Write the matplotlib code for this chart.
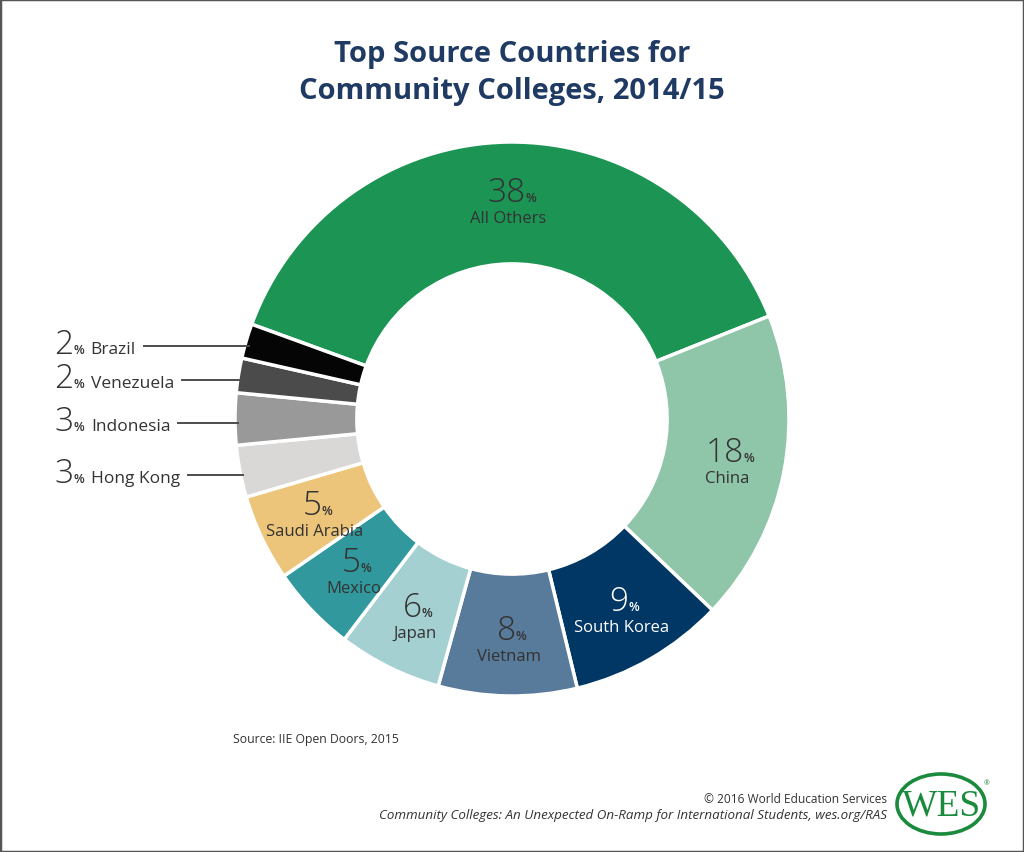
import numpy as np
import matplotlib.pyplot as plt
from matplotlib import font_manager
from matplotlib.transforms import IdentityTransform
from matplotlib.patches import Ellipse, Rectangle

# data
countries = ['All Others', 'China', 'South Korea', 'Vietnam', 'Japan', 'Mexico',
             'Saudi Arabia', 'Hong Kong', 'Indonesia', 'Venezuela', 'Brazil']
shares = [38, 18, 9, 8, 6, 5, 5, 3, 3, 2, 2]
colors = ['#1b9454', '#8fc5a8', '#003764', '#597b9b', '#a4d0d2', '#31999d',
          '#ecc47a', '#d9d8d7', '#999999', '#4b4b4b', '#050505']
label_colors = ['#333333', '#333333', 'white', '#333333', '#333333', '#333333',
                '#333333', '#333333', '#333333', '#333333', '#333333']
outside = ['Hong Kong', 'Indonesia', 'Venezuela', 'Brazil']

LBL_FONT = 'Open Sans'

# thin font for the big numbers: a real "light" face if one is installed
NUM_FONT, NUM_WEIGHT = 'Lato', 'normal'
have = {(f.name, f.weight) for f in font_manager.fontManager.ttflist}
for fam in ['Open Sans', 'Roboto', 'Inter', 'Lato', 'Noto Sans']:
    if (fam, 300) in have or (fam, 'light') in have:
        NUM_FONT, NUM_WEIGHT = fam, 300
        break

W, H = 1024, 853
fig = plt.figure(figsize=(W / 100, H / 100), dpi=100)
fig.patch.set_facecolor('white')
IDT = IdentityTransform()


def put(x, y, s, **kw):
    # x, y in image pixels (y measured from the top)
    return fig.text(x, H - y, s, transform=IDT, **kw)


# donut
cx, cy, R = 512, 420, 277
span = R * 2.4
ax = fig.add_axes([(cx - span / 2) / W, (H - cy - span / 2) / H, span / W, span / H])
wedges, _ = ax.pie(shares, colors=colors, startangle=160, counterclock=False, radius=1,
                   wedgeprops=dict(width=0.44, edgecolor='white', linewidth=2.5))
ax.set_xlim(-1.2, 1.2)
ax.set_ylim(-1.2, 1.2)
ax.set_aspect('equal')
ax.axis('off')

fig.canvas.draw()
renderer = fig.canvas.get_renderer()


def width(t):
    return t.get_window_extent(renderer).width


def to_px(r, ang):
    a = np.deg2rad(ang)
    x, y = ax.transData.transform((r * np.cos(a), r * np.sin(a)))
    return x, H - y


for w, name, val, lc in zip(wedges, countries, shares, label_colors):
    mid = (w.theta1 + w.theta2) / 2
    if name in outside:
        ex, ey = to_px(0.99, mid)
        ey += 4
        x0 = 54
        t_num = put(x0, ey + 7, str(val), fontsize=24, family=NUM_FONT, weight=NUM_WEIGHT,
                    color=lc, va='baseline', ha='left')
        t_pct = put(0, ey + 7, '%', fontsize=9, family=LBL_FONT, weight='semibold',
                    color=lc, va='baseline', ha='left')
        t_nm = put(0, ey + 7, name, fontsize=12.5, family=LBL_FONT, weight='medium',
                   color=lc, va='baseline', ha='left')
        w1 = width(t_num)
        w2 = width(t_pct)
        t_pct.set_x(x0 + w1)
        t_nm.set_x(x0 + w1 + w2 + 7)
        x_end = x0 + w1 + w2 + 7 + width(t_nm)
        fig.add_artist(plt.Line2D([x_end + 8, ex], [H - ey, H - ey], transform=IDT,
                                  color='#4d4d4d', lw=1.4))
    else:
        lx, ly = to_px(0.79, mid)
        t_num = put(0, ly + 1, str(val), fontsize=24, family=NUM_FONT, weight=NUM_WEIGHT,
                    color=lc, va='baseline', ha='left')
        t_pct = put(0, ly + 1, '%', fontsize=9, family=LBL_FONT, weight='semibold',
                    color=lc, va='baseline', ha='left')
        w1 = width(t_num)
        w2 = width(t_pct)
        xs = lx - (w1 + w2) / 2 + 3
        t_num.set_x(xs)
        t_pct.set_x(xs + w1)
        put(lx, ly + 18, name, fontsize=12, family=LBL_FONT, weight='medium',
            color=lc, va='center', ha='center')

# title
put(512, 55, 'Top Source Countries for', fontsize=21, family=LBL_FONT, weight='bold',
    color='#1f3a63', ha='center', va='center')
put(512, 92, 'Community Colleges, 2014/15', fontsize=21, family=LBL_FONT, weight='bold',
    color='#1f3a63', ha='center', va='center')

# footer
put(233, 740, 'Source: IIE Open Doors, 2015', fontsize=8.8, family=LBL_FONT,
    color='#333333', ha='left', va='center')
put(887, 800, '\u00a9 2016 World Education Services', fontsize=8.6, family=LBL_FONT,
    color='#333333', ha='right', va='center')
put(887, 816, 'Community Colleges: An Unexpected On-Ramp for International Students, wes.org/RAS',
    fontsize=9.6, family=LBL_FONT, style='italic', color='#333333', ha='right', va='center')

# WES logo
green = '#1a8a3c'
fig.add_artist(Ellipse((941, H - 805), 88, 60, transform=IDT, fill=False,
                       edgecolor=green, lw=2.6))
put(941, 806, 'WES', fontsize=27, family='Liberation Serif', color=green,
    ha='center', va='center')
put(987, 784, '\u00ae', fontsize=5, family=LBL_FONT, color=green, ha='center', va='center')

# border
fig.add_artist(Rectangle((0, 0), 1, 1, transform=fig.transFigure, fill=False,
                         edgecolor='#555555', lw=2.5))

fig.savefig('out.png', dpi=100, facecolor='white')
